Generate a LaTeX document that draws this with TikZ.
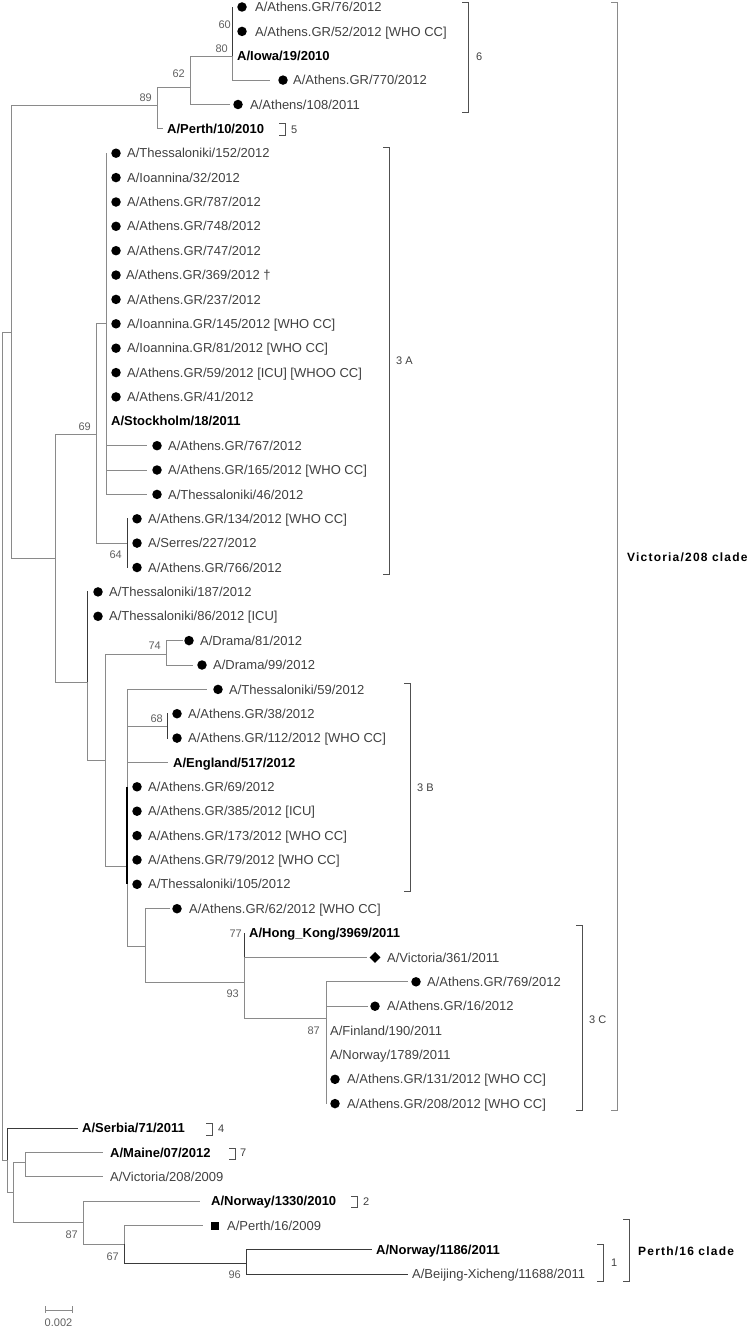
\documentclass[tikz,border=0pt]{standalone}
\usepackage{fontspec}
\setmainfont{Liberation Sans}
\newfontfamily\cladefont[LetterSpace=10]{Liberation Sans}
\usetikzlibrary{shapes.geometric}
\definecolor{treegray}{HTML}{8A8A8A}
\definecolor{darkline}{HTML}{3A3A3A}
\definecolor{labgray}{HTML}{404040}
\definecolor{bootgray}{HTML}{606060}
\definecolor{brkgray}{HTML}{505050}
\begin{document}
\begin{tikzpicture}[x=1pt,y=-1pt,
  branch/.style={draw=treegray,line width=0.9pt},
  dbranch/.style={draw=darkline,line width=0.9pt},
  leaf/.style={anchor=west,inner sep=0pt,text height=9.3pt,text depth=0pt,font=\fontsize{13}{15}\selectfont,text=labgray},
  refleaf/.style={leaf,font=\bfseries\fontsize{13}{15}\selectfont,text=black},
  boot/.style={anchor=east,inner sep=0pt,text height=7.9pt,text depth=0pt,font=\fontsize{11}{13}\selectfont,text=bootgray},
  dot/.style={circle,fill=black,inner sep=0pt,minimum size=9.5pt},
  dia/.style={diamond,fill=black,inner sep=0pt,minimum size=11pt},
  sq/.style={rectangle,fill=black,inner sep=0pt,minimum size=8pt},
  brk/.style={draw=brkgray,line width=0.8pt},
  brlab/.style={anchor=west,inner sep=0pt,text height=7.9pt,text depth=0pt,font=\fontsize{11}{13}\selectfont,text=labgray},
  cladelab/.style={anchor=west,inner sep=0pt,text height=8.6pt,text depth=0pt,font=\cladefont\bfseries\fontsize{12}{14}\selectfont,text=black}]
\useasboundingbox (0,0) rectangle (750,1327);
% ---------- internal nodes ----------
\coordinate (R) at (2,746);
\coordinate (nA) at (11,332);
\coordinate (n89) at (157,105);
\coordinate (n62) at (190,87);
\coordinate (n80) at (232,56);
\coordinate (n55) at (55,558);
\coordinate (n69) at (96,434);
\coordinate (n3A) at (106,323.8);
\coordinate (n64) at (127,543.1);
\coordinate (n87a) at (87,682);
\coordinate (n105) at (105,760);
\coordinate (n74) at (166,654);
\coordinate (n127) at (127,866);
\coordinate (n68) at (167,726);
\coordinate (n145) at (145,946);
\coordinate (n93) at (244,982);
\coordinate (n87b) at (326,1018);
\coordinate (nS) at (7,1160);
\coordinate (n13) at (13,1192);
\coordinate (n25) at (25,1162);
\coordinate (n83) at (83,1222);
\coordinate (n124) at (124,1244);
\coordinate (n246) at (246,1263);
% ---------- branch tips ----------
\coordinate (z1) at (233,7);
\coordinate (k4) at (270,80.1);
\coordinate (k5) at (230,104.5);
\coordinate (k6) at (163,128.9);
\coordinate (z7) at (107,153.2);
\coordinate (k19) at (147,445.7);
\coordinate (k20) at (147,470);
\coordinate (k21) at (147,494.4);
\coordinate (z22) at (128,518.8);
\coordinate (z24) at (128,567.5);
\coordinate (z25) at (88,591.9);
\coordinate (k27) at (183,640.6);
\coordinate (k28) at (193,665);
\coordinate (k29) at (207,689.4);
\coordinate (z30) at (168,713.7);
\coordinate (z31) at (168,738.1);
\coordinate (k32) at (168,762.5);
\coordinate (z33) at (127,786.8);
\coordinate (z37) at (127,884.3);
\coordinate (k38) at (170,908.7);
\coordinate (z39) at (245,933.1);
\coordinate (k40) at (367,957.4);
\coordinate (k41) at (408,981.8);
\coordinate (k42) at (368,1006.2);
\coordinate (z46) at (327,1103.6);
\coordinate (k47) at (78,1128);
\coordinate (k48) at (103,1152.4);
\coordinate (k49) at (103,1176.8);
\coordinate (k50) at (200,1201.1);
\coordinate (k51) at (203,1225.5);
\coordinate (k52) at (372,1249.9);
\coordinate (k53) at (408,1274.2);
% ---------- branches ----------
\draw[branch] (R) |- (nA);
\draw[branch] (R) |- (nS);
\draw[branch] (nA) |- (n89);
\draw[branch] (nA) |- (n55);
\draw[branch] (n89) |- (n62);
\draw[branch] (n89) |- (k6);
\draw[branch] (n62) |- (n80);
\draw[branch] (n62) |- (k5);
\draw[dbranch] (n80) |- (z1);
\draw[branch] (n80) |- (k4);
\draw[branch] (n55) |- (n69);
\draw[branch] (n55) |- (n87a);
\draw[branch] (n69) |- (n3A);
\draw[branch] (n69) |- (n64);
\draw[branch] (n3A) |- (z7);
\draw[branch] (n3A) |- (k19);
\draw[branch] (n3A) |- (k20);
\draw[branch] (n3A) |- (k21);
\draw[dbranch] (n64) |- (z22);
\draw[dbranch] (n64) |- (z24);
\draw[dbranch] (n87a) |- (z25);
\draw[branch] (n87a) |- (n105);
\draw[branch] (n105) |- (n74);
\draw[branch] (n105) |- (n127);
\draw[branch] (n74) |- (k27);
\draw[branch] (n74) |- (k28);
\draw[branch] (n127) |- (k29);
\draw[branch] (n127) |- (n68);
\draw[branch] (n127) |- (k32);
\draw[branch] (n127) |- (n145);
\draw[draw=black,line width=1.3pt] (z33) -- (z37);
\draw[dbranch] (n68) |- (z30);
\draw[dbranch] (n68) |- (z31);
\draw[branch] (n145) |- (k38);
\draw[branch] (n145) |- (n93);
\draw[dbranch] (n93) |- (z39);
\draw[branch] (n93) |- (k40);
\draw[branch] (n93) |- (n87b);
\draw[branch] (n87b) |- (k41);
\draw[branch] (n87b) |- (k42);
\draw[branch] (n87b) |- (z46);
\draw[dbranch] (nS) |- (k47);
\draw[branch] (nS) |- (n13);
\draw[branch] (n13) |- (n25);
\draw[branch] (n13) |- (n83);
\draw[branch] (n25) |- (k48);
\draw[branch] (n25) |- (k49);
\draw[branch] (n83) |- (k50);
\draw[branch] (n83) |- (n124);
\draw[branch] (n124) |- (k51);
\draw[dbranch] (n124) |- (n246);
\draw[dbranch] (n246) |- (k52);
\draw[dbranch] (n246) |- (k53);
% ---------- bootstrap values ----------
\node[boot] (b60) at (231,25) {60};
\node[boot] (b80) at (228,49) {80};
\node[boot] (b62) at (185,74) {62};
\node[boot] (b89) at (152,98) {89};
\node[boot] (b69) at (91,427) {69};
\node[boot] (b64) at (122,555) {64};
\node[boot] (b74) at (161,646) {74};
\node[boot] (b68) at (163,719) {68};
\node[boot] (b77) at (242,934) {77};
\node[boot] (b93) at (239,994) {93};
\node[boot] (b87a) at (320,1031) {87};
\node[boot] (b87b) at (78,1235) {87};
\node[boot] (b67) at (119,1257) {67};
\node[boot] (b96) at (241,1275) {96};
% ---------- leaves ----------
\node[dot] (d1) at (242,7) {};     \node[leaf] (t1) at (255,7) {A/Athens.GR/76/2012};
\node[dot] (d2) at (242,31.4) {};  \node[leaf] (t2) at (255,31.4) {A/Athens.GR/52/2012 [WHO CC]};
\node[refleaf] (t3) at (237,55.7) {A/Iowa/19/2010};
\node[dot] (d4) at (283,80.1) {};  \node[leaf] (t4) at (293,80.1) {A/Athens.GR/770/2012};
\node[dot] (d5) at (238,104.5) {}; \node[leaf] (t5) at (250,104.5) {A/Athens/108/2011};
\node[refleaf] (t6) at (167,128.9) {A/Perth/10/2010};
\node[dot] (d7) at (116,153.2) {};  \node[leaf] (t7) at (127,153.2) {A/Thessaloniki/152/2012};
\node[dot] (d8) at (116,177.6) {};  \node[leaf] (t8) at (127,177.6) {A/Ioannina/32/2012};
\node[dot] (d9) at (116,202.0) {};  \node[leaf] (t9) at (127,202.0) {A/Athens.GR/787/2012};
\node[dot] (d10) at (116,226.3) {}; \node[leaf] (t10) at (127,226.3) {A/Athens.GR/748/2012};
\node[dot] (d11) at (116,250.7) {}; \node[leaf] (t11) at (127,250.7) {A/Athens.GR/747/2012};
\node[dot] (d12) at (116,275.1) {}; \node[leaf] (t12) at (126,275.1) {A/Athens.GR/369/2012 †};
\node[dot] (d13) at (116,299.4) {}; \node[leaf] (t13) at (127,299.4) {A/Athens.GR/237/2012};
\node[dot] (d14) at (116,323.8) {}; \node[leaf] (t14) at (127,323.8) {A/Ioannina.GR/145/2012 [WHO CC]};
\node[dot] (d15) at (116,348.2) {}; \node[leaf] (t15) at (127,348.2) {A/Ioannina.GR/81/2012 [WHO CC]};
\node[dot] (d16) at (116,372.6) {}; \node[leaf] (t16) at (127,372.6) {A/Athens.GR/59/2012 [ICU] [WHOO CC]};
\node[dot] (d17) at (116,396.9) {}; \node[leaf] (t17) at (127,396.9) {A/Athens.GR/41/2012};
\node[refleaf] (t18) at (111,421.3) {A/Stockholm/18/2011};
\node[dot] (d19) at (157,445.7) {}; \node[leaf] (t19) at (168,445.7) {A/Athens.GR/767/2012};
\node[dot] (d20) at (157,470.0) {}; \node[leaf] (t20) at (168,470.0) {A/Athens.GR/165/2012 [WHO CC]};
\node[dot] (d21) at (157,494.4) {}; \node[leaf] (t21) at (168,494.4) {A/Thessaloniki/46/2012};
\node[dot] (d22) at (137,518.8) {}; \node[leaf] (t22) at (148,518.8) {A/Athens.GR/134/2012 [WHO CC]};
\node[dot] (d23) at (137,543.1) {}; \node[leaf] (t23) at (148,543.1) {A/Serres/227/2012};
\node[dot] (d24) at (137,567.5) {}; \node[leaf] (t24) at (148,567.5) {A/Athens.GR/766/2012};
\node[dot] (d25) at (98,591.9) {};  \node[leaf] (t25) at (109,591.9) {A/Thessaloniki/187/2012};
\node[dot] (d26) at (98,616.3) {};  \node[leaf] (t26) at (109,616.3) {A/Thessaloniki/86/2012 [ICU]};
\node[dot] (d27) at (189,640.6) {}; \node[leaf] (t27) at (200,640.6) {A/Drama/81/2012};
\node[dot] (d28) at (202,665.0) {}; \node[leaf] (t28) at (213,665.0) {A/Drama/99/2012};
\node[dot] (d29) at (218,689.4) {}; \node[leaf] (t29) at (229,689.4) {A/Thessaloniki/59/2012};
\node[dot] (d30) at (177,713.7) {}; \node[leaf] (t30) at (188,713.7) {A/Athens.GR/38/2012};
\node[dot] (d31) at (177,738.1) {}; \node[leaf] (t31) at (188,738.1) {A/Athens.GR/112/2012 [WHO CC]};
\node[refleaf] (t32) at (173,762.5) {A/England/517/2012};
\node[dot] (d33) at (137,786.8) {}; \node[leaf] (t33) at (148,786.8) {A/Athens.GR/69/2012};
\node[dot] (d34) at (137,811.2) {}; \node[leaf] (t34) at (148,811.2) {A/Athens.GR/385/2012 [ICU]};
\node[dot] (d35) at (137,835.6) {}; \node[leaf] (t35) at (148,835.6) {A/Athens.GR/173/2012 [WHO CC]};
\node[dot] (d36) at (137,859.9) {}; \node[leaf] (t36) at (148,859.9) {A/Athens.GR/79/2012 [WHO CC]};
\node[dot] (d37) at (137,884.3) {}; \node[leaf] (t37) at (148,884.3) {A/Thessaloniki/105/2012};
\node[dot] (d38) at (177,908.7) {}; \node[leaf] (t38) at (189,908.7) {A/Athens.GR/62/2012 [WHO CC]};
\node[refleaf] (t39) at (249,933.1) {A/Hong\_Kong/3969/2011};
\node[dia] (d40) at (375,957.4) {};  \node[leaf] (t40) at (387,957.4) {A/Victoria/361/2011};
\node[dot] (d41) at (416,981.8) {};  \node[leaf] (t41) at (427,981.8) {A/Athens.GR/769/2012};
\node[dot] (d42) at (375,1006.2) {}; \node[leaf] (t42) at (387,1006.2) {A/Athens.GR/16/2012};
\node[leaf] (t43) at (330,1030.5) {A/Finland/190/2011};
\node[leaf] (t44) at (330,1054.9) {A/Norway/1789/2011};
\node[dot] (d45) at (335,1079.3) {}; \node[leaf] (t45) at (347,1079.3) {A/Athens.GR/131/2012 [WHO CC]};
\node[dot] (d46) at (335,1103.6) {}; \node[leaf] (t46) at (347,1103.6) {A/Athens.GR/208/2012 [WHO CC]};
\node[refleaf] (t47) at (82,1128.0) {A/Serbia/71/2011};
\node[refleaf] (t48) at (110,1152.4) {A/Maine/07/2012};
\node[leaf] (t49) at (110,1176.8) {A/Victoria/208/2009};
\node[refleaf] (t50) at (211,1201.1) {A/Norway/1330/2010};
\node[sq] (d51) at (215,1225.5) {}; \node[leaf] (t51) at (227,1225.5) {A/Perth/16/2009};
\node[refleaf] (t52) at (376,1249.9) {A/Norway/1186/2011};
\node[leaf] (t53) at (412,1274.2) {A/Beijing-Xicheng/11688/2011};
% ---------- brackets ----------
\draw[brk] (462,2) -- (468,2) -- (468,112) -- (462,112);
\node[brlab] (l6) at (476,57) {6};
\draw[brk] (279,123) -- (285,123) -- (285,135) -- (279,135);
\node[brlab] (l5) at (291,130) {5};
\draw[brk] (383,147) -- (389,147) -- (389,574) -- (383,574);
\node[brlab] (l3A) at (396,361) {3 A};
\draw[brk] (404,683) -- (410,683) -- (410,891) -- (404,891);
\node[brlab] (l3B) at (417,788) {3 B};
\draw[brk] (576,925) -- (582,925) -- (582,1110) -- (576,1110);
\node[brlab] (l3C) at (589,1020) {3 C};
\draw[brk,draw=treegray] (611,2) -- (617,2) -- (617,1110) -- (611,1110);
\node[cladelab] (lV) at (627,557) {Victoria/208 clade};
\draw[brk] (206,1123) -- (212,1123) -- (212,1135) -- (206,1135);
\node[brlab] (l4) at (218,1129) {4};
\draw[brk] (229,1148) -- (235,1148) -- (235,1159) -- (229,1159);
\node[brlab] (l7) at (240,1153) {7};
\draw[brk] (351,1196) -- (357,1196) -- (357,1207) -- (351,1207);
\node[brlab] (l2) at (363,1202) {2};
\draw[brk] (597,1244) -- (603,1244) -- (603,1281) -- (597,1281);
\node[brlab] (l1) at (611,1263) {1};
\draw[brk] (623,1219) -- (629,1219) -- (629,1281) -- (623,1281);
\node[cladelab] (lP) at (638,1251) {Perth/16 clade};
% ---------- scale bar ----------
\draw[branch] (45,1306) -- (45,1313) (45,1310) -- (72,1310) (72,1306) -- (72,1313);
\node[boot,anchor=center] (sc) at (58.5,1323) {0.002};
\end{tikzpicture}
\end{document}
